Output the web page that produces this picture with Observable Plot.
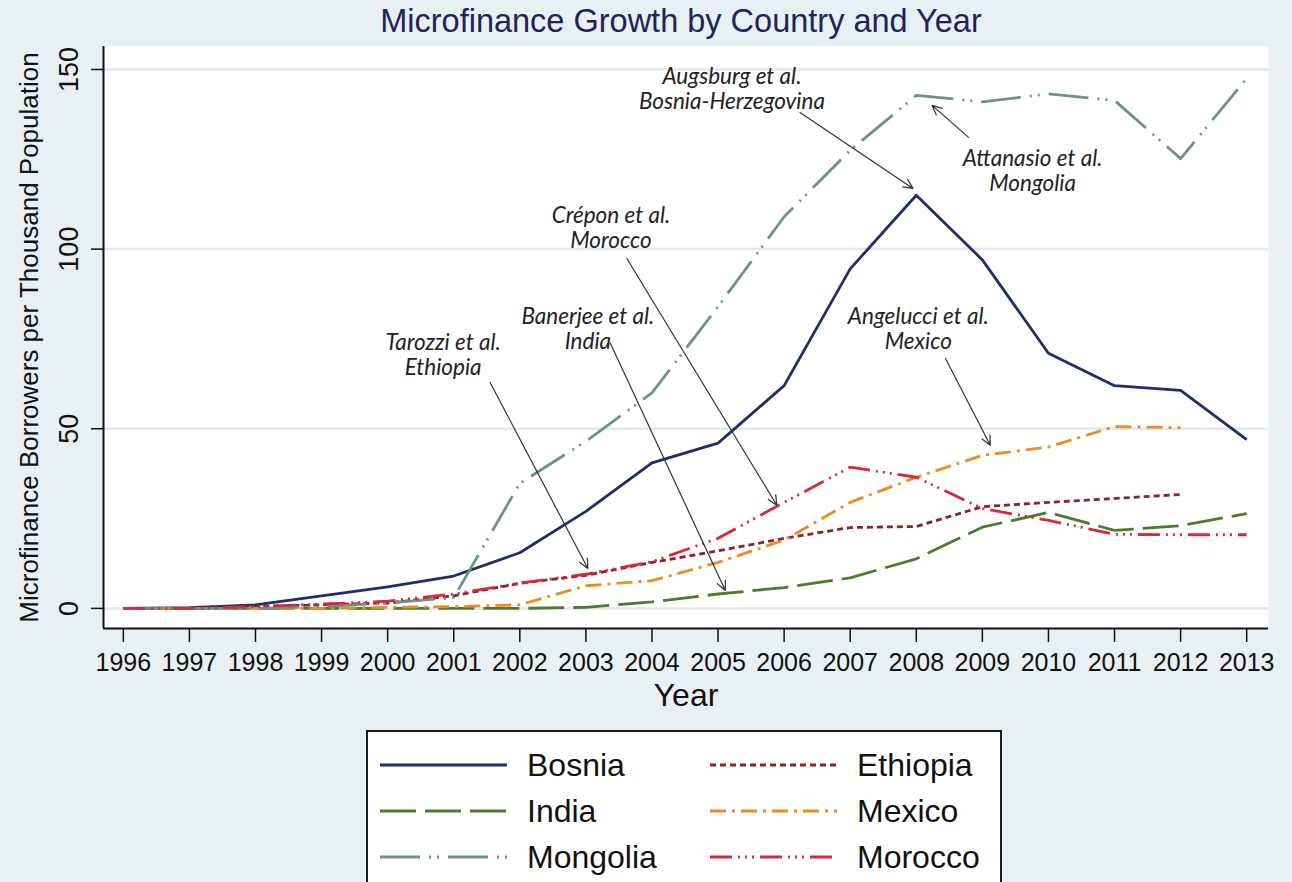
<!DOCTYPE html>
<html><head><meta charset="utf-8">
<script src="https://cdn.jsdelivr.net/npm/d3@7"></script>
<script src="https://cdn.jsdelivr.net/npm/@observablehq/plot@0.6"></script>
<style>
html,body{margin:0;padding:0;background:#e9f0f3;}
#wrap{position:relative;width:1292px;height:882px;overflow:hidden;font-family:"Liberation Sans",Arial,sans-serif;}
#title{position:absolute;left:0;width:1362px;top:3px;text-align:center;font-size:32.5px;color:#20245a;}
#chart{position:absolute;left:0;top:0;}
#legend{position:absolute;left:366px;top:730px;width:632px;height:220px;border:2px solid #1a1a1a;background:#fff;}
.item{position:absolute;display:flex;align-items:center;font-size:32px;color:#111;height:40px;}
.item svg{margin-right:20px;}
</style></head>
<body><div id="wrap"><div id="chart"></div><div id="title">Microfinance Growth by Country and Year</div><div id="legend"></div></div>
<script>
const years = [1996,1997,1998,1999,2000,2001,2002,2003,2004,2005,2006,2007,2008,2009,2010,2011,2012,2013];
const bosnia   = [0,0.2,1,3.5,6,9,15.5,27,40.5,46,62,94.5,115,97,71,62,60.7,47];
const ethiopia = [0,0,0.5,1,1.5,3.5,7,9.2,12.8,16,19.5,22.5,22.8,28.3,29.5,30.6,31.7,null];
const india    = [0,0,0,0,0,0,0,0.3,1.8,4,5.8,8.5,13.8,22.6,26.7,21.7,23,26.4];
const mexico   = [0,0,0,0,0.3,0.5,1,6.3,7.7,12.8,19,29.5,36.5,42.6,44.9,50.6,50.3,null];
const mongolia = [0,0,0,0.5,1.5,3,34.8,46.5,60,84,109,127.5,142.8,141,143.2,141.4,125.2,147.5];
const morocco  = [0,0,0.5,1.2,2,4,7,9.5,13,19.5,29.5,39.3,36.5,27.8,24.5,20.6,20.5,20.5];
const yTicks = [0,50,100,150];
const titleY = "Microfinance Borrowers per Thousand Population";
const titleX = "Year";

const seriesNames = ["Bosnia","Ethiopia","India","Mexico","Mongolia","Morocco"];
const seriesValues = [bosnia, ethiopia, india, mexico, mongolia, morocco];
const seriesColors = ["#1f2d6c","#8c1f30","#4a7d2b","#f08a1c","#6b9486","#d9283c"];
const seriesDash = [null,"6,4","36,9","16,6,3,6","40,9,2,6,2,9","22,6,2,5,2,5,2,6"];

const annotations = [
  {text:"Augsburg et al.\nBosnia-Herzegovina", x:2005.21, y:144.7, x1:2006.24, y1:138, x2:2007.95, y2:116.9},
  {text:"Attanasio et al.\nMongolia", x:2009.76, y:121.9, x1:2008.79, y1:131.1, x2:2008.24, y2:140},
  {text:"Crépon et al.\nMorocco", x:2003.38, y:106, x1:2003.62, y1:97.4, x2:2005.89, y2:28.7},
  {text:"Banerjee et al.\nIndia", x:2003.03, y:77.9, x1:2003.37, y1:73.8, x2:2005.11, y2:5.0},
  {text:"Tarozzi et al.\nEthiopia", x:2000.84, y:70.7, x1:2001.55, y1:62.9, x2:2003.03, y2:11.1},
  {text:"Angelucci et al.\nMexico", x:2008.03, y:77.9, x1:2008.44, y1:69.6, x2:2009.12, y2:45.4}
];

const xDomain = [1995.7, 2013.33];
const yDomain = [-5.6, 156.4];

const lineMarks = seriesNames.map((name, i) => Plot.line(
  years.map((yr, j) => ({year: yr, value: seriesValues[i][j]})),
  {x: "year", y: "value", stroke: seriesColors[i], strokeWidth: 2.8,
   strokeDasharray: seriesDash[i] || undefined, strokeLinecap: "butt", strokeLinejoin: "round"}
));

const chart = Plot.plot({
  width: 1292, height: 730,
  marginLeft: 103, marginRight: 24, marginTop: 46, marginBottom: 102,
  style: {background: "transparent", fontFamily: "'Liberation Sans', Arial, sans-serif", color: "#111", overflow: "visible"},
  x: {domain: xDomain},
  y: {domain: yDomain},
  marks: [
    Plot.frame({fill: "white", stroke: null}),
    Plot.gridY(yTicks, {stroke: "#dfe9ee", strokeOpacity: 1, strokeWidth: 2.5}),
    Plot.axisX(years, {tickFormat: d => String(d), tickSize: 14, tickPadding: 11, fontSize: 25, label: null, stroke: "#111", strokeWidth: 1.5}),
    Plot.axisY(yTicks, {tickSize: 12, tickPadding: 14, fontSize: 27, tickRotate: -90, label: null, stroke: "#111", strokeWidth: 1.5}),
    Plot.ruleX([xDomain[0]], {stroke: "#111", strokeWidth: 2}),
    Plot.ruleY([yDomain[0]], {stroke: "#111", strokeWidth: 2}),
    Plot.text([titleX], {frameAnchor: "bottom", dy: 67, lineAnchor: "middle", fontSize: 32, fill: "#111"}),
    Plot.text([titleY], {frameAnchor: "left", dx: -74, rotate: -90, textAnchor: "middle", fontSize: 26, fill: "#111"}),
    ...lineMarks,
    Plot.arrow(annotations, {x1: "x1", y1: "y1", x2: "x2", y2: "y2", stroke: "#333", strokeWidth: 1.2, headLength: 13, headAngle: 50}),
    Plot.text(annotations, {x: "x", y: "y", text: "text", fontFamily: "Lato, 'Open Sans', sans-serif", fontStyle: "italic", fontSize: 22.5, lineHeight: 1.12, fill: "#222"})
  ]
});
document.getElementById("chart").appendChild(chart);

// Legend
const legend = document.getElementById("legend");
const legendOrder = ["Bosnia","Ethiopia","India","Mexico","Mongolia","Morocco"];
legendOrder.forEach((name, k) => {
  const i = seriesNames.indexOf(name);
  const col = k % 2, row = Math.floor(k / 2);
  const div = document.createElement("div");
  div.className = "item";
  div.style.left = (col === 0 ? 12 : 342) + "px";
  div.style.top = (13 + row * 46) + "px";
  const ns = "http://www.w3.org/2000/svg";
  const svg = document.createElementNS(ns, "svg");
  svg.setAttribute("width", 127); svg.setAttribute("height", 10);
  const ln = document.createElementNS(ns, "line");
  ln.setAttribute("x1", 0); ln.setAttribute("x2", 127); ln.setAttribute("y1", 5); ln.setAttribute("y2", 5);
  ln.setAttribute("stroke", seriesColors[i]); ln.setAttribute("stroke-width", 3);
  if (seriesDash[i]) ln.setAttribute("stroke-dasharray", seriesDash[i]);
  svg.appendChild(ln);
  div.appendChild(svg);
  const span = document.createElement("span");
  span.textContent = name;
  div.appendChild(span);
  legend.appendChild(div);
});
</script></body></html>
